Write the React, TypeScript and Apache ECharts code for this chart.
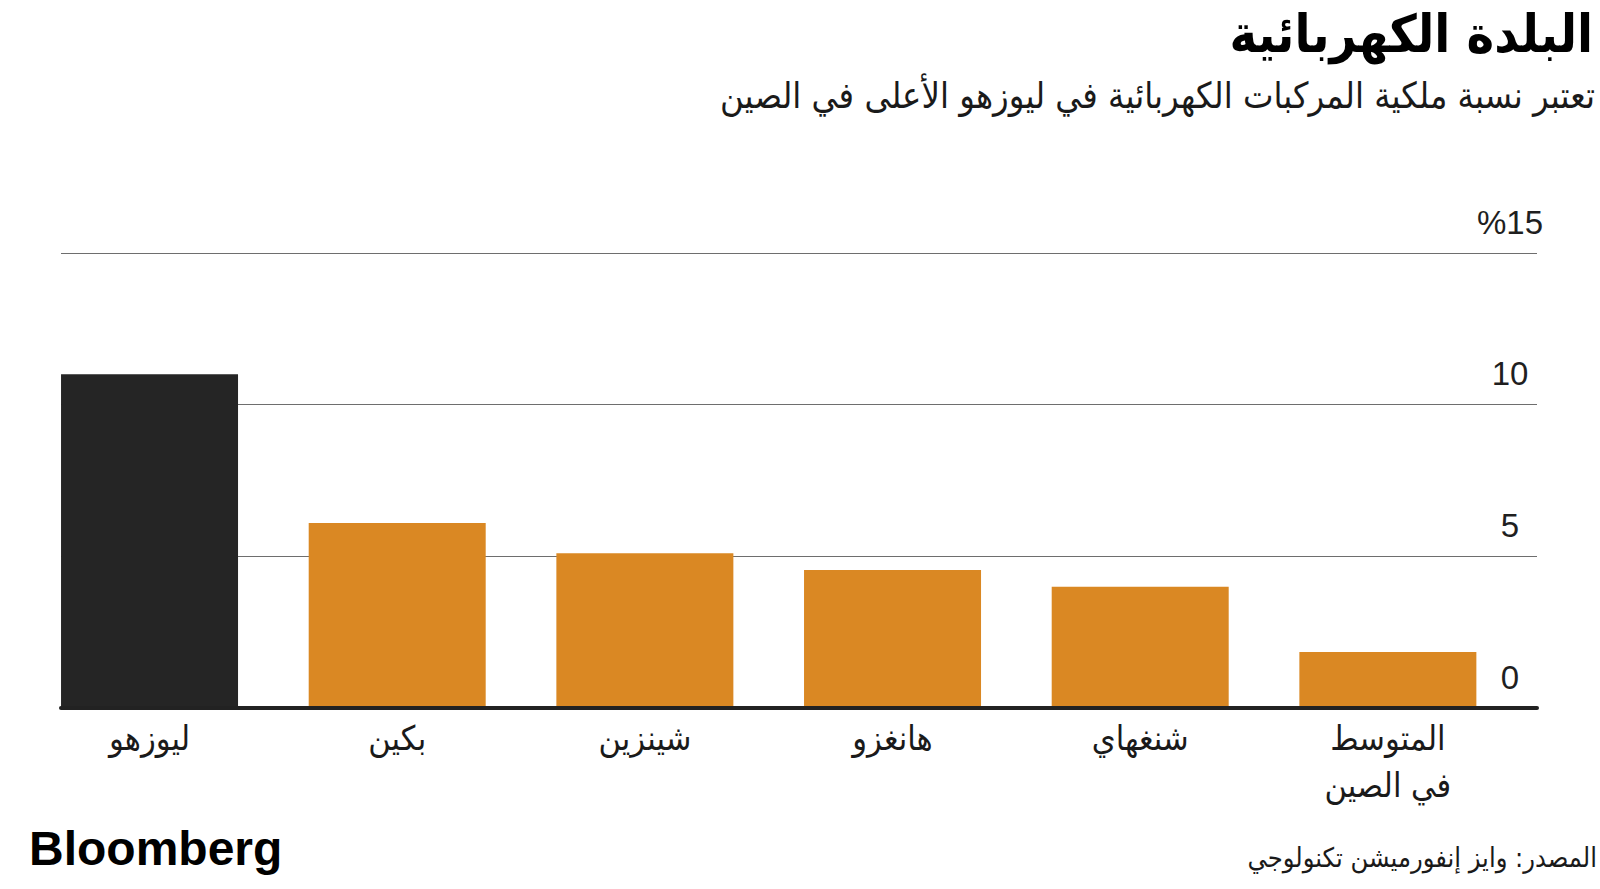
import React, { useEffect, useRef } from "react";
import * as echarts from "echarts";

const categories = ["ليوزهو", "بكين", "شينزين", "هانغزو", "شنغهاي", "المتوسط\nفي الصين"];
const shareValues = [11.0, 6.1, 5.1, 4.55, 4.0, 1.85];
const barColors = ["#252525", "#DA8823", "#DA8823", "#DA8823", "#DA8823", "#DA8823"];
const yTickValues = [0, 5, 10, 15];
const yTickLabels = ["0", "5", "10", "%15"];

const titleText = "البلدة الكهربائية";
const subtitleText = "تعتبر نسبة ملكية المركبات الكهربائية في ليوزهو الأعلى في الصين";
const sourceText = "المصدر: وايز إنفورميشن تكنولوجي";
const brandText = "Bloomberg";

const AR_FONT = "'DejaVu Sans Condensed', 'DejaVu Sans', sans-serif";
const NUM_FONT = "'Liberation Sans', Arial, sans-serif";

export default function App() {
  const ref = useRef<HTMLDivElement>(null);

  useEffect(() => {
    if (!ref.current) return;
    const chart = echarts.init(ref.current, null, { renderer: "svg" });
    const gridTop = 253;
    const gridHeight = 455;
    chart.setOption({
      animation: false,
      backgroundColor: "#ffffff",
      grid: [
        { left: 61, top: gridTop, width: 1476, height: gridHeight },
        { left: 25.7, top: gridTop, width: 1486, height: gridHeight },
      ],
      xAxis: [
        {
          gridIndex: 0,
          type: "value",
          min: 0,
          max: 1,
          axisLine: { show: true, onZero: false, lineStyle: { color: "#222222", width: 4 } },
          axisTick: { show: false },
          axisLabel: { show: false },
          splitLine: { show: false },
          z: 5,
        },
        {
          gridIndex: 1,
          type: "category",
          data: categories,
          axisLine: { show: false },
          axisTick: { show: false },
          axisLabel: {
            margin: 6,
            fontSize: 34,
            lineHeight: 47,
            color: "#1a1a1a",
            fontFamily: AR_FONT,
            align: "center",
          },
        },
      ],
      yAxis: [
        {
          gridIndex: 0,
          type: "value",
          position: "right",
          min: 0,
          max: 15,
          interval: 5,
          axisLine: { show: false },
          axisTick: { show: false },
          splitLine: { show: true, lineStyle: { color: "#6e6e6e", width: 1 } },
          axisLabel: {
            margin: -27,
            align: "center",
            verticalAlign: "bottom",
            fontSize: 33,
            lineHeight: 32,
            padding: [0, 0, 15, 0],
            color: "#1f1f1f",
            fontFamily: NUM_FONT,
            formatter: (v: number) => {
              const i = yTickValues.indexOf(v);
              return i >= 0 ? yTickLabels[i] : String(v);
            },
          },
        },
        {
          gridIndex: 1,
          type: "value",
          min: 0,
          max: 15,
          interval: 5,
          show: false,
        },
      ],
      series: [
        {
          type: "bar",
          xAxisIndex: 1,
          yAxisIndex: 1,
          barWidth: 177,
          z: 2,
          data: shareValues.map((v, i) => ({ value: v, itemStyle: { color: barColors[i] } })),
        },
      ],
      graphic: [
        {
          type: "text",
          right: 7,
          top: 8,
          style: {
            text: titleText,
            fontSize: 52,
            fontWeight: "bold",
            fontFamily: AR_FONT,
            fill: "#000000",
          },
        },
        {
          type: "text",
          right: 5,
          top: 77,
          style: {
            text: subtitleText,
            fontSize: 36,
            fontFamily: AR_FONT,
            fill: "#1a1a1a",
          },
        },
        {
          type: "text",
          right: 3,
          top: 844,
          style: {
            text: sourceText,
            fontSize: 27,
            fontFamily: AR_FONT,
            fill: "#1a1a1a",
          },
        },
        {
          type: "text",
          left: 29,
          top: 824,
          style: {
            text: brandText,
            fontSize: 48,
            fontWeight: "bold",
            fontFamily: NUM_FONT,
            fill: "#000000",
          },
        },
      ],
    });
    return () => chart.dispose();
  }, []);

  return (
    <div
      ref={ref}
      style={{ position: "fixed", left: 0, top: 0, width: 1600, height: 889, background: "#ffffff" }}
    />
  );
}
